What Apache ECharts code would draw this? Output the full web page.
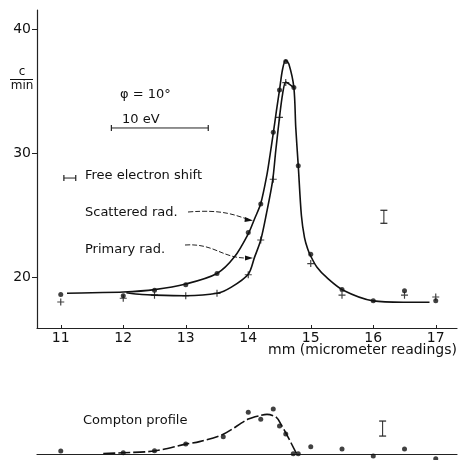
<!DOCTYPE html>
<html>
<head>
<meta charset="utf-8">
<script src="https://cdn.jsdelivr.net/npm/echarts@6/dist/echarts.min.js"></script>
<style>
  html, body { margin: 0; padding: 0; background: #fff; }
  #chart { width: 458px; height: 460px; }
</style>
</head>
<body>
<div id="chart"></div>
<script>
// scattered radiation, measured points (dots)
const scatteredX = [11, 12, 12.5, 13, 13.5, 14, 14.2, 14.4, 14.5, 14.6, 14.73, 14.8, 15, 15.5, 16, 16.5, 17]
const scatteredY = [18.6, 18.5, 18.95, 19.4, 20.3, 23.6, 25.9, 31.7, 35.1, 37.4, 35.3, 29.0, 21.85, 19.0, 18.1, 18.9, 18.1]
// primary radiation, measured points (crosses)
const primaryX = [11, 12, 12.5, 13, 13.5, 14, 14.2, 14.4, 14.5, 14.6, 15, 15.5, 16.5, 17]
const primaryY = [18.0, 18.3, 18.55, 18.5, 18.7, 20.2, 23.0, 27.9, 32.9, 35.7, 21.1, 18.55, 18.55, 18.4]
// drawn curves
const scCurveX = [11.1, 11.5, 12, 12.5, 13, 13.5, 13.78, 14, 14.1, 14.2, 14.3, 14.35, 14.4, 14.45, 14.5, 14.55, 14.6, 14.65, 14.73, 14.76, 14.8, 14.85, 14.9, 14.95, 15, 15.1, 15.25, 15.52, 16, 16.48, 16.9]
const scCurveY = [18.7, 18.75, 18.8, 19.0, 19.45, 20.3, 21.64, 23.5, 24.7, 25.94, 28.3, 29.9, 31.6, 33.4, 35.1, 36.8, 37.5, 37.2, 35.3, 32.1, 29.0, 25.0, 23.2, 22.3, 21.7, 20.8, 20.0, 18.95, 18.09, 17.98, 17.98]
const prCurveX = [12.05, 12.3, 12.5, 13, 13.5, 13.73, 14, 14.1, 14.2, 14.29, 14.39, 14.44, 14.5, 14.55, 14.6, 14.65, 14.73]
const prCurveY = [18.75, 18.6, 18.55, 18.5, 18.7, 19.2, 20.24, 21.6, 23.0, 25.1, 27.8, 30.2, 32.9, 34.8, 35.75, 35.6, 35.3]
// Compton profile (difference), points and curve
const comptonX = [11, 12, 12.5, 13, 13.6, 14, 14.2, 14.4, 14.5, 14.6, 14.72, 14.8, 15, 15.5, 16, 16.5, 17]
const comptonY = [0.24, 0.1, 0.27, 0.81, 1.4, 3.36, 2.8, 3.63, 2.26, 1.61, 0.02, 0.02, 0.59, 0.4, -0.16, 0.4, -0.38]
const cpCurveX = [11.68, 12, 12.5, 13, 13.22, 13.6, 14, 14.2, 14.3, 14.45, 14.53, 14.62, 14.77]
const cpCurveY = [0.05, 0.1, 0.25, 0.8, 1.0, 1.6, 2.82, 3.12, 3.2, 2.96, 2.34, 1.53, 0.05]
// scale bars and error bars
const evBarX = [11.81, 13.36]
const evBarY = [32.04, 32.04]
const shiftBarX = [11.05, 11.24]
const shiftBarY = [28.0, 28.0]
const errTopX = [16.17, 16.17]
const errTopY = [25.4, 24.35]
const errBotX = [16.15, 16.15]
const errBotY = [2.66, 1.45]
const xTicks = [11, 12, 13, 14, 15, 16, 17]
const yTicks = [20, 30, 40]

const pairs = (xs, ys) => xs.map((x, i) => [x, ys[i]])
const FONT = 'DejaVu Sans'
const plus = 'path://M2.5,0h1v2.5h2.5v1h-2.5v2.5h-1v-2.5h-2.5v-1h2.5z'

const chart = echarts.init(document.getElementById('chart'))

const curve = (data, xi, yi, dash) => ({
  type: 'line', data, xAxisIndex: xi, yAxisIndex: yi,
  smooth: 0.3, showSymbol: false, silent: true,
  lineStyle: { color: '#111', width: 1.6, type: dash || 'solid' }
})
const points = (data, xi, yi, symbol, size) => ({
  type: 'scatter', data, xAxisIndex: xi, yAxisIndex: yi,
  symbol, symbolSize: size, itemStyle: { color: '#111' }
})
const bar = (data, xi, yi, size) => ({
  type: 'line', data, xAxisIndex: xi, yAxisIndex: yi,
  symbol: 'rect', symbolSize: size, showSymbol: true,
  lineStyle: { color: '#222', width: 1 }, itemStyle: { color: '#222' }
})

const txt = (text, x, y, size, align) => ({
  type: 'text', x, y,
  style: { text, font: (size || 13) + 'px ' + FONT, fill: '#111', align: align || 'left', verticalAlign: 'middle' }
})

chart.setOption({
  animation: false,
  grid: [
    { left: 37, top: 10, width: 420, height: 318 },
    { left: 37, top: 395, width: 420, height: 65 }
  ],
  xAxis: [
    {
      type: 'value', gridIndex: 0, min: 10.62, max: 17.34,
      splitLine: { show: false },
      axisLine: { lineStyle: { color: '#222', width: 1.2 } },
      axisTick: { customValues: xTicks, inside: true, length: 3, lineStyle: { color: '#222' } },
      axisLabel: { customValues: xTicks, color: '#111', fontFamily: FONT, fontSize: 14, margin: 3 }
    },
    {
      type: 'value', gridIndex: 1, min: 10.62, max: 17.34,
      splitLine: { show: false },
      axisLine: { onZero: true, lineStyle: { color: '#222', width: 1.2 } },
      axisTick: { show: false }, axisLabel: { show: false }
    }
  ],
  yAxis: [
    {
      type: 'value', gridIndex: 0, min: 15.9, max: 41.56,
      splitLine: { show: false },
      axisLine: { show: true, lineStyle: { color: '#222', width: 1.2 } },
      axisTick: { show: true, customValues: yTicks, length: 5, lineStyle: { color: '#222' } },
      axisLabel: { customValues: yTicks, color: '#111', fontFamily: FONT, fontSize: 14, margin: 6 }
    },
    {
      type: 'value', gridIndex: 1, min: -0.48, max: 4.76,
      show: false, splitLine: { show: false }
    }
  ],
  series: [
    curve(pairs(scCurveX, scCurveY), 0, 0),
    curve(pairs(prCurveX, prCurveY), 0, 0),
    points(pairs(scatteredX, scatteredY), 0, 0, 'circle', 5),
    points(pairs(primaryX, primaryY), 0, 0, plus, 7),
    bar(pairs(evBarX, evBarY), 0, 0, [1.2, 6]),
    bar(pairs(shiftBarX, shiftBarY), 0, 0, [1.2, 6]),
    bar(pairs(errTopX, errTopY), 0, 0, [7, 1.2]),
    curve(pairs(cpCurveX, cpCurveY), 1, 1, [12, 3]),
    points(pairs(comptonX, comptonY), 1, 1, 'circle', 5),
    bar(pairs(errBotX, errBotY), 1, 1, [7, 1.2])
  ],
  graphic: [
    txt('c', 22, 72, 12, 'center'),
    { type: 'line', shape: { x1: 10, y1: 79.5, x2: 33, y2: 79.5 }, style: { stroke: '#111', lineWidth: 1 } },
    txt('min', 22, 86, 12, 'center'),
    txt('φ = 10°', 120, 95, 13),
    txt('10 eV', 122, 119.5, 13),
    txt('Free electron shift', 85, 176, 13),
    txt('Scattered rad.', 85, 212.5, 13),
    txt('Primary rad.', 85, 249.5, 13),
    txt('mm (micrometer readings)', 457, 350, 14, 'right'),
    txt('Compton profile', 83, 421, 13),
    {
      type: 'bezierCurve',
      shape: { x1: 188, y1: 212, cpx1: 225, cpy1: 209, cpx2: 236, cpy2: 216, x2: 249, y2: 219.5 },
      style: { stroke: '#222', lineWidth: 1, lineDash: [5, 2], fill: null }
    },
    { type: 'polygon', shape: { points: [[253, 220.5], [245, 217], [244.5, 222]] }, style: { fill: '#111' } },
    {
      type: 'bezierCurve',
      shape: { x1: 185, y1: 245, cpx1: 215, cpy1: 243, cpx2: 222, cpy2: 259, x2: 249, y2: 258 },
      style: { stroke: '#222', lineWidth: 1, lineDash: [5, 2], fill: null }
    },
    { type: 'polygon', shape: { points: [[253, 258], [245, 255.5], [245, 260.5]] }, style: { fill: '#111' } }
  ]
})
</script>
</body>
</html>
